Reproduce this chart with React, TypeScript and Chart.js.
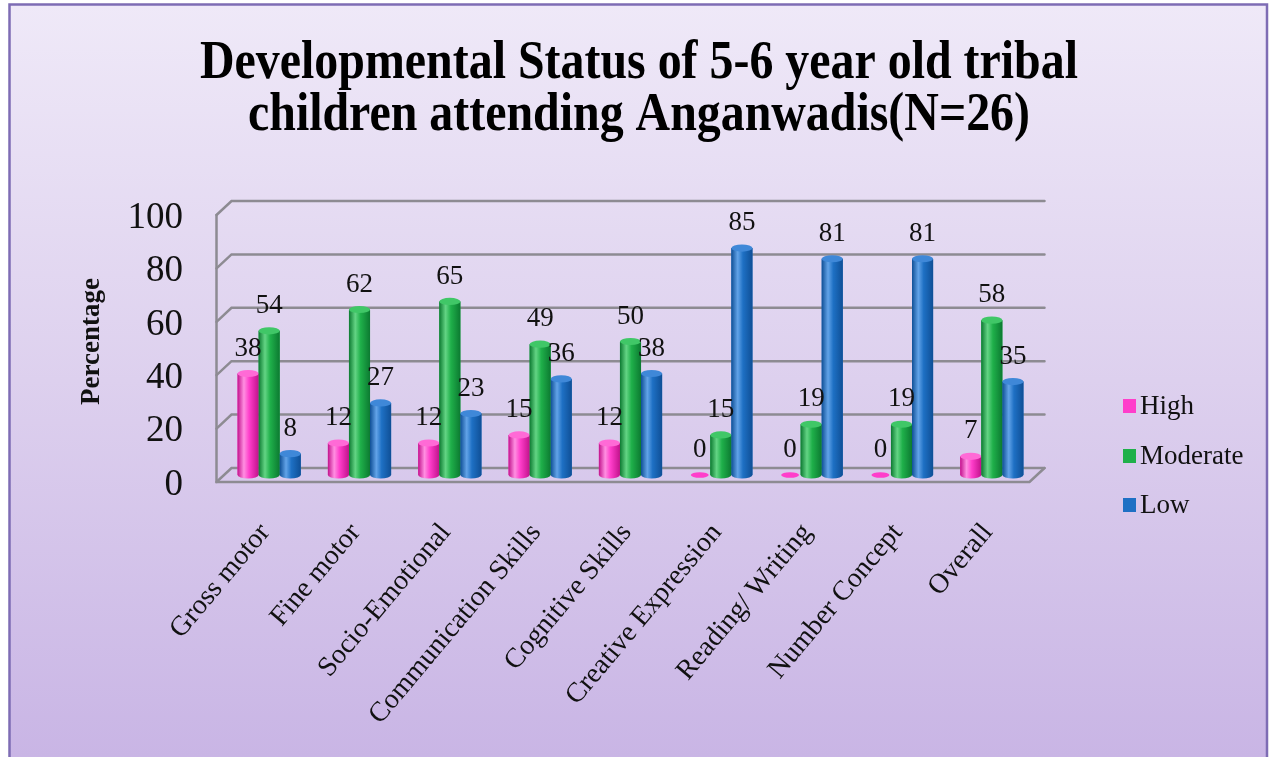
import { useEffect, useRef } from "react";
import { Chart, registerables } from "chart.js";

Chart.register(...registerables);

const TITLE_LINES = [
  "Developmental Status of 5-6 year old tribal",
  "children attending Anganwadis(N=26)",
];
const CATEGORIES = [
  "Gross motor",
  "Fine motor",
  "Socio-Emotional",
  "Communication Skills",
  "Cognitive Skills",
  "Creative Expression",
  "Reading/ Writing",
  "Number Concept",
  "Overall",
];
const HIGH = [38, 12, 12, 15, 12, 0, 0, 0, 7];
const MODERATE = [54, 62, 65, 49, 50, 15, 19, 19, 58];
const LOW = [8, 27, 23, 36, 38, 85, 81, 81, 35];
const SERIES_NAMES = ["High", "Moderate", "Low"];
const Y_MIN = 0;
const Y_MAX = 100;
const Y_STEP = 20;
const Y_TITLE = "Percentage";

const SERIES_COLORS = ["#ff3ecb", "#1fb04a", "#1e70c4"];
const SERIES_DARK = ["#c2128c", "#0c7a31", "#0f4f96"];
const SERIES_LIGHT = ["#ff8fe1", "#63d484", "#62a3e8"];
const SERIES_CAP = ["#ff6ad6", "#40c767", "#3f88d8"];
const FONT = "'Liberation Serif', 'Times New Roman', serif";
const DEPTH_X = 7.5;
const DEPTH_Y = 7;

const backgroundPlugin = {
  id: "bgFrame",
  beforeDraw(chart: any) {
    const { ctx, width, height } = chart;
    ctx.save();
    ctx.fillStyle = "#ffffff";
    ctx.fillRect(0, 0, width, height);
    const g = ctx.createLinearGradient(0, 4, 0, height);
    g.addColorStop(0, "#efe9f8");
    g.addColorStop(0.5, "#ddd0ee");
    g.addColorStop(1, "#c9b5e5");
    ctx.fillStyle = g;
    ctx.fillRect(9, 4, 1258, height);
    ctx.strokeStyle = "#7e6cb4";
    ctx.lineWidth = 2.5;
    ctx.beginPath();
    ctx.moveTo(9.5, height + 5);
    ctx.lineTo(9.5, 4.5);
    ctx.lineTo(1267, 4.5);
    ctx.lineTo(1267, height + 5);
    ctx.stroke();

    // title
    ctx.fillStyle = "#000";
    ctx.font = `bold 54px ${FONT}`;
    ctx.textBaseline = "alphabetic";
    ctx.textAlign = "center";
    const targets = [
      { w: 878, y: 78 },
      { w: 782, y: 130 },
    ];
    TITLE_LINES.forEach((line, i) => {
      const m = ctx.measureText(line).width;
      const sx = targets[i].w / m;
      ctx.save();
      ctx.translate(639, targets[i].y);
      ctx.scale(sx, 1);
      ctx.fillText(line, 0, 0);
      ctx.restore();
    });
    ctx.restore();
  },
};

const boxPlugin = {
  id: "box3d",
  beforeDatasetsDraw(chart: any) {
    const { ctx, chartArea } = chart;
    const ys = chart.scales.y;
    const { left, right, bottom, top } = chartArea;
    ctx.save();
    ctx.strokeStyle = "#8d8b92";
    ctx.lineWidth = 2.5;
    ctx.lineCap = "round";
    for (let v = Y_MIN; v <= Y_MAX; v += Y_STEP) {
      const yp = ys.getPixelForValue(v);
      ctx.beginPath();
      ctx.moveTo(left - DEPTH_X, yp + DEPTH_Y);
      ctx.lineTo(left + DEPTH_X, yp - DEPTH_Y);
      ctx.lineTo(right + DEPTH_X, yp - DEPTH_Y);
      ctx.stroke();
    }
    ctx.beginPath();
    ctx.moveTo(left - DEPTH_X, top + DEPTH_Y);
    ctx.lineTo(left - DEPTH_X, bottom + DEPTH_Y);
    ctx.lineTo(right - DEPTH_X, bottom + DEPTH_Y);
    ctx.lineTo(right + DEPTH_X, bottom - DEPTH_Y);
    ctx.stroke();
    ctx.restore();
  },
};

const cylinderPlugin = {
  id: "cylinders",
  afterDatasetsDraw(chart: any) {
    const { ctx } = chart;
    ctx.save();
    chart.data.datasets.forEach((ds: any, di: number) => {
      const meta = chart.getDatasetMeta(di);
      meta.data.forEach((el: any) => {
        const { x, y, base, width } = el.getProps(["x", "y", "base", "width"], true);
        const l = x - width / 2;
        const r = x + width / 2;
        const rx = width / 2;
        const ry = Math.max(3, width * 0.17);
        const g = ctx.createLinearGradient(l, 0, r, 0);
        g.addColorStop(0, SERIES_DARK[di]);
        g.addColorStop(0.3, SERIES_LIGHT[di]);
        g.addColorStop(0.55, SERIES_COLORS[di]);
        g.addColorStop(1, SERIES_DARK[di]);
        if (base - y < 1) {
          ctx.fillStyle = SERIES_COLORS[di];
          ctx.beginPath();
          ctx.ellipse(x, base, rx * 0.85, ry * 0.8, 0, 0, Math.PI * 2);
          ctx.fill();
          return;
        }
        ctx.fillStyle = g;
        ctx.beginPath();
        ctx.moveTo(l, y);
        ctx.lineTo(l, base);
        ctx.ellipse(x, base, rx, ry, 0, Math.PI, 0, true);
        ctx.lineTo(r, y);
        ctx.closePath();
        ctx.fill();
        ctx.fillStyle = SERIES_CAP[di];
        ctx.beginPath();
        ctx.ellipse(x, y, rx, ry, 0, 0, Math.PI * 2);
        ctx.fill();
      });
    });
    // value labels
    ctx.fillStyle = "#111";
    ctx.font = `27px ${FONT}`;
    ctx.textAlign = "center";
    ctx.textBaseline = "middle";
    chart.data.datasets.forEach((ds: any, di: number) => {
      const meta = chart.getDatasetMeta(di);
      meta.data.forEach((el: any, i: number) => {
        const { x, y } = el.getProps(["x", "y"], true);
        ctx.fillText(String(ds.data[i]), x, y - 25);
      });
    });
    ctx.restore();
  },
};

const legendPlugin = {
  id: "customLegend",
  afterDraw(chart: any) {
    const { ctx } = chart;
    const ys = [406, 456, 505];
    ctx.save();
    ctx.font = `27px ${FONT}`;
    ctx.textAlign = "left";
    ctx.textBaseline = "middle";
    SERIES_NAMES.forEach((name, i) => {
      ctx.fillStyle = SERIES_COLORS[i];
      ctx.fillRect(1123, ys[i] - 7, 13, 14);
      ctx.fillStyle = "#111";
      ctx.fillText(name, 1140, ys[i] + 1);
    });
    ctx.restore();
  },
};

export default function App() {
  const ref = useRef<HTMLCanvasElement | null>(null);
  useEffect(() => {
    if (!ref.current) return;
    const seriesData = [HIGH, MODERATE, LOW];
    const chart = new Chart(ref.current, {
      type: "bar",
      data: {
        labels: CATEGORIES,
        datasets: SERIES_NAMES.map((name, i) => ({
          label: name,
          data: seriesData[i],
          backgroundColor: SERIES_COLORS[i],
          borderWidth: 0,
          categoryPercentage: 0.7,
          barPercentage: 1.0,
        })),
      },
      options: {
        responsive: false,
        animation: false,
        events: [],
        layout: { padding: { top: 208, right: 233, left: 0, bottom: 0 } },
        plugins: {
          legend: { display: false },
          title: { display: false },
          tooltip: { enabled: false },
        },
        scales: {
          x: {
            grid: { display: false, drawTicks: false },
            border: { display: false },
            ticks: {
              maxRotation: 50,
              minRotation: 50,
              autoSkip: false,
              padding: 42,
              labelOffset: -4,
              color: "#111",
              font: { family: FONT, size: 28 },
            },
            afterFit: (s: any) => {
              s.height = 757 - 475;
            },
          },
          y: {
            min: Y_MIN,
            max: Y_MAX,
            grid: { display: false, drawTicks: false },
            border: { display: false },
            ticks: {
              stepSize: Y_STEP,
              padding: 41,
              labelOffset: 10,
              color: "#111",
              font: { family: FONT, size: 37 },
            },
            title: {
              display: true,
              text: Y_TITLE,
              color: "#111",
              font: { family: FONT, size: 27, weight: "bold" },
              padding: { top: 76, bottom: 0 },
            },
            afterFit: (s: any) => {
              s.width = 224;
            },
          },
        },
      },
      plugins: [backgroundPlugin, boxPlugin, cylinderPlugin, legendPlugin],
    });
    return () => chart.destroy();
  }, []);
  return (
    <div style={{ position: "fixed", left: 0, top: 0, width: 1270, height: 757 }}>
      <canvas ref={ref} width={1270} height={757} style={{ display: "block" }} />
    </div>
  );
}
